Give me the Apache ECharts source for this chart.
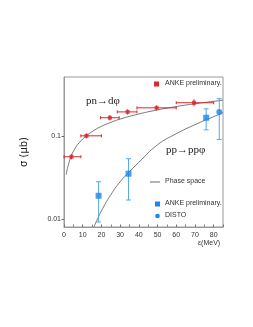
<!DOCTYPE html>
<html><head><meta charset="utf-8">
<script src="https://cdn.jsdelivr.net/npm/echarts@6/dist/echarts.min.js"></script>
<style>html,body{margin:0;padding:0;background:#fff}#c{width:253px;height:327px}</style>
</head><body><div id="c"></div>
<script>
// pn -> d phi (ANKE preliminary)
const dphiX   = [4, 12, 24.5, 34, 49.5, 69.5];
const dphiY   = [0.056, 0.1, 0.165, 0.194, 0.217, 0.25];
const dphiXLo = [0, 9, 19.5, 28.5, 39, 60];
const dphiXHi = [9, 20, 29.5, 39, 60, 80];
const dphiYLo = [0.052, 0.093, 0.153, 0.18, 0.202, 0.226];
const dphiYHi = [0.060, 0.107, 0.177, 0.208, 0.232, 0.275];
// pp -> pp phi (ANKE preliminary)
const ppX   = [18.5, 34.5, 76];
const ppY   = [0.019, 0.035, 0.165];
const ppYLo = [0.0092, 0.0169, 0.118];
const ppYHi = [0.028, 0.053, 0.211];
// DISTO
const distoX = [83];
const distoY = [0.194];
const distoYLo = [0.09];
const distoYHi = [0.28];
// phase space curves
const ps1X = [1.2, 2, 4, 6, 8, 12, 16, 20, 25, 30, 40, 50, 60, 70, 80, 85];
const ps1Y = [0.034, 0.042, 0.058, 0.071, 0.082, 0.1, 0.116, 0.13, 0.145, 0.159, 0.183, 0.205, 0.225, 0.243, 0.26, 0.268];
const ps2X = [16, 18, 20, 25, 30, 35, 40, 50, 60, 70, 80, 85];
const ps2Y = [0.008, 0.0101, 0.0125, 0.0195, 0.028, 0.037, 0.048, 0.078, 0.106, 0.136, 0.17, 0.19];
const yTickLabels = [0.01, 0.1];

const chart = echarts.init(document.getElementById('c'), null, {renderer: 'canvas'});
const zip = (a, b) => a.map((v, i) => [v, b[i]]);

function errItem(color, horiz) {
  return function (params, api) {
    const x = api.value(0), y = api.value(1);
    const xl = api.value(2), xh = api.value(3), yl = api.value(4), yh = api.value(5);
    const children = [];
    const style = {stroke: color, lineWidth: 1};
    if (horiz) {
      const a = api.coord([xl, y]), b = api.coord([xh, y]);
      children.push({type: 'line', shape: {x1: a[0], y1: a[1], x2: b[0], y2: b[1]}, style});
      children.push({type: 'line', shape: {x1: a[0], y1: a[1]-1.5, x2: a[0], y2: a[1]+1.5}, style});
      children.push({type: 'line', shape: {x1: b[0], y1: b[1]-1.5, x2: b[0], y2: b[1]+1.5}, style});
    }
    const c = api.coord([x, yl]), d = api.coord([x, yh]);
    children.push({type: 'line', shape: {x1: c[0], y1: c[1], x2: d[0], y2: d[1]}, style});
    if (!horiz) {
      children.push({type: 'line', shape: {x1: c[0]-2.5, y1: c[1], x2: c[0]+2.5, y2: c[1]}, style});
      children.push({type: 'line', shape: {x1: d[0]-2.5, y1: d[1], x2: d[0]+2.5, y2: d[1]}, style});
    }
    return {type: 'group', children};
  };
}

const dphiErr = dphiX.map((x, i) => [x, dphiY[i], dphiXLo[i], dphiXHi[i], dphiYLo[i], dphiYHi[i]]);
const ppErr = ppX.map((x, i) => [x, ppY[i], x, x, ppYLo[i], ppYHi[i]]);
const distoErr = distoX.map((x, i) => [x, distoY[i], x, x, distoYLo[i], distoYHi[i]]);

const txt = (x, y, text, extra) => ({type: 'text', left: x, top: y, silent: true,
  style: Object.assign({text, fill: '#333', font: '7px "Liberation Sans", Arial, sans-serif'}, extra || {})});

chart.setOption({
  animation: false,
  grid: {left: 64, top: 77, right: 30, bottom: 100, show: true, borderColor: '#999', borderWidth: 1},
  xAxis: {
    type: 'value', min: 0, max: 85, interval: 10,
    axisLine: {show: true, lineStyle: {color: '#999'}},
    axisTick: {show: true, inside: true, length: 2.5, lineStyle: {color: '#777'}},
    minorTick: {show: true, splitNumber: 2, length: 2.5, lineStyle: {color: '#888'}},
    splitLine: {show: false},
    axisLabel: {fontSize: 7, color: '#333', margin: 5, fontFamily: 'Liberation Sans',
      formatter: v => (v <= 80 ? String(v) : '')}
  },
  yAxis: {
    type: 'log', logBase: 10, min: 0.008, max: 0.51,
    axisLine: {show: true, lineStyle: {color: '#999'}},
    axisTick: {show: true, inside: false, length: 2.5, lineStyle: {color: '#666'}},
    minorTick: {show: false},
    splitLine: {show: false},
    axisLabel: {fontSize: 7, color: '#333', margin: 3, fontFamily: 'Liberation Sans',
      showMinLabel: false, showMaxLabel: false,
      formatter: v => {
        for (const t of yTickLabels) if (Math.abs(v - t) / t < 1e-6) return String(t);
        return '';
      }}
  },
  series: [
    {type: 'line', data: zip(ps1X, ps1Y), smooth: true, showSymbol: false, symbol: 'none',
      lineStyle: {color: '#555', width: 0.8}, z: 1},
    {type: 'line', data: zip(ps2X, ps2Y), smooth: true, showSymbol: false, symbol: 'none',
      lineStyle: {color: '#555', width: 0.8}, z: 1},
    {type: 'custom', renderItem: errItem('#d8282c', true), data: dphiErr, z: 2,
      encode: {x: [0, 2, 3], y: [1, 4, 5]}},
    {type: 'custom', renderItem: errItem('#55a8e8', false), data: ppErr, z: 2,
      encode: {x: [0], y: [1, 4, 5]}},
    {type: 'custom', renderItem: errItem('#55a8e8', false), data: distoErr, z: 2,
      encode: {x: [0], y: [1, 4, 5]}},
    {type: 'scatter', data: zip(dphiX, dphiY), symbol: 'rect', symbolSize: 4,
      itemStyle: {color: '#d8282c'}, z: 3},
    {type: 'scatter', data: zip(ppX, ppY), symbol: 'rect', symbolSize: 6,
      itemStyle: {color: '#1a86ee'}, z: 3},
    {type: 'scatter', data: zip(distoX, distoY), symbol: 'circle', symbolSize: 6,
      itemStyle: {color: '#1a86ee'}, z: 3}
  ],
  graphic: [
    {type: 'text', left: 86, top: 96, silent: true,
      style: {text: 'pn\u2192d\u03c6', fill: '#222', font: '11px "Liberation Serif", serif'}},
    {type: 'text', left: 166, top: 145, silent: true,
      style: {text: 'pp\u2192pp\u03c6', fill: '#222', font: '11px "Liberation Serif", serif'}},
    {type: 'rect', shape: {x: 154, y: 81.5, width: 5, height: 5}, style: {fill: '#e3262b'}},
    txt(165, 80, 'ANKE preliminary.'),
    {type: 'line', shape: {x1: 150, y1: 182, x2: 160, y2: 182}, style: {stroke: '#444', lineWidth: 0.8}},
    txt(165, 178, 'Phase space'),
    {type: 'rect', shape: {x: 155, y: 201.5, width: 5, height: 5}, style: {fill: '#1a86ee'}},
    txt(165, 200, 'ANKE preliminary.'),
    {type: 'circle', shape: {cx: 157.5, cy: 216, r: 2.3}, style: {fill: '#1a86ee'}},
    txt(165, 212, 'DISTO'),
    {type: 'text', left: 198, top: 240, silent: true,
      style: {text: '\u03b5(MeV)', fill: '#333', font: '7px "Liberation Sans", Arial, sans-serif'}},
    {type: 'text', x: 24, y: 152, rotation: Math.PI / 2, silent: true,
      style: {text: '\u03c3 (\u03bcb)', fill: '#222', font: '10px "DejaVu Sans", sans-serif',
        align: 'center', verticalAlign: 'middle'}}
  ]
});
</script></body></html>
